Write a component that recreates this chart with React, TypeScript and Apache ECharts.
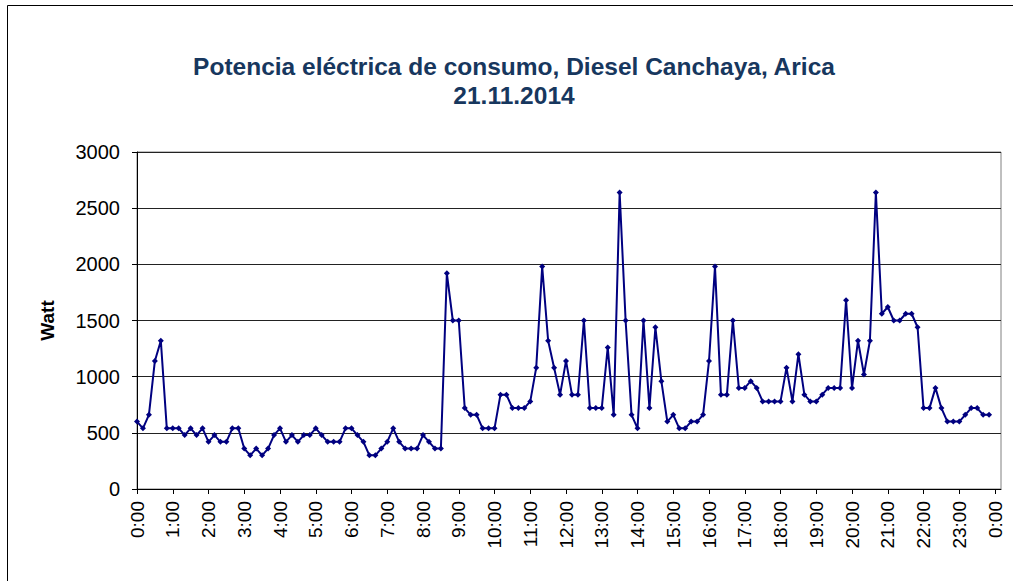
import React, { useEffect, useRef } from "react";
import * as echarts from "echarts";

const titleLines = ["Potencia eléctrica de consumo, Diesel Canchaya, Arica", "21.11.2014"];
const yAxisName = "Watt";
const yTicks = { min: 0, max: 3000, interval: 500 };

// Power readings every 10 minutes, 0:00 .. 23:50 (Watt)
const power: number[] = [
  600, 540, 660, 1140, 1320, 540, 540, 540, 480, 540, 480, 540, 420, 480, 420, 420, 540, 540, 360, 300, 360, 300, 360, 480,
  540, 420, 480, 420, 480, 480, 540, 480, 420, 420, 420, 540, 540, 480, 420, 300, 300, 360, 420, 540, 420, 360, 360, 360,
  480, 420, 360, 360, 1920, 1500, 1500, 720, 660, 660, 540, 540, 540, 840, 840, 720, 720, 720, 780, 1080, 1980, 1320, 1080, 840,
  1140, 840, 840, 1500, 720, 720, 720, 1260, 660, 2640, 1500, 660, 540, 1500, 720, 1440, 960, 600, 660, 540, 540, 600, 600, 660,
  1140, 1980, 840, 840, 1500, 900, 900, 960, 900, 780, 780, 780, 780, 1080, 780, 1200, 840, 780, 780, 840, 900, 900, 900, 1680,
  900, 1320, 1020, 1320, 2640, 1560, 1620, 1500, 1500, 1560, 1560, 1440, 720, 720, 900, 720, 600, 600, 600, 660, 720, 720, 660, 660,
];

// 10-minute time categories, 0:00 .. 24:00 (shown as 0:00), plus one blank slot at the plot edge
const timeLabels: string[] = [];
for (let i = 0; i <= 144; i++) {
  const h = Math.floor(i / 6) % 24;
  const m = (i % 6) * 10;
  timeLabels.push(`${h}:${m === 0 ? "00" : m}`);
}
timeLabels.push("");

export default function App() {
  const ref = useRef<HTMLDivElement>(null);
  useEffect(() => {
    if (!ref.current) return;
    const chart = echarts.init(ref.current, undefined, { renderer: "svg" });
    chart.setOption({
      animation: false,
      backgroundColor: "#ffffff",
      title: {
        text: titleLines.join("\n"),
        left: 509,
        top: 47,
        textAlign: "center",
        textStyle: {
          fontFamily: "Liberation Sans, Arial, sans-serif",
          fontSize: 24.5,
          fontWeight: "bold",
          color: "#17375E",
          lineHeight: 29,
        },
      },
      graphic: [
        {
          type: "rect",
          shape: { x: 7.5, y: 5.5, width: 1100, height: 700 },
          style: { fill: "none", stroke: "#000000", lineWidth: 1 },
          silent: true,
          z: -1,
        },
      ],
      grid: {
        left: 137,
        top: 152,
        right: 12,
        bottom: 92,
        show: true,
        borderColor: "#808080",
        borderWidth: 1,
        backgroundColor: "transparent",
      },
      xAxis: {
        type: "category",
        data: timeLabels,
        boundaryGap: false,
        axisLine: { lineStyle: { color: "#000000", width: 1 } },
        axisTick: { show: true, interval: 5, length: 5, lineStyle: { color: "#000000" } },
        axisLabel: {
          interval: 5,
          rotate: 90,
          margin: 12,
          color: "#000000",
          fontFamily: "Liberation Sans, Arial, sans-serif",
          fontSize: 19,
        },
        splitLine: { show: false },
      },
      yAxis: {
        type: "value",
        min: yTicks.min,
        max: yTicks.max,
        interval: yTicks.interval,
        name: yAxisName,
        nameLocation: "middle",
        nameGap: 80,
        nameRotate: 90,
        nameTextStyle: {
          fontFamily: "Liberation Sans, Arial, sans-serif",
          fontSize: 19,
          fontWeight: "bold",
          color: "#000000",
        },
        axisLine: { show: true, lineStyle: { color: "#000000", width: 1 } },
        axisTick: { show: true, length: 5, lineStyle: { color: "#000000" } },
        axisLabel: {
          margin: 17,
          color: "#000000",
          fontFamily: "Liberation Sans, Arial, sans-serif",
          fontSize: 20,
          formatter: (v: number) => String(v),
        },
        splitLine: { show: true, lineStyle: { color: "#222222", width: 1 } },
      },
      series: [
        {
          type: "line",
          data: power,
          symbol: "diamond",
          symbolSize: 6,
          showAllSymbol: true,
          lineStyle: { color: "#000080", width: 2 },
          itemStyle: { color: "#000080" },
        },
      ],
    });
    return () => chart.dispose();
  }, []);
  return (
    <div
      ref={ref}
      style={{ position: "fixed", left: 0, top: 0, width: 1013, height: 581, background: "#fff" }}
    />
  );
}
